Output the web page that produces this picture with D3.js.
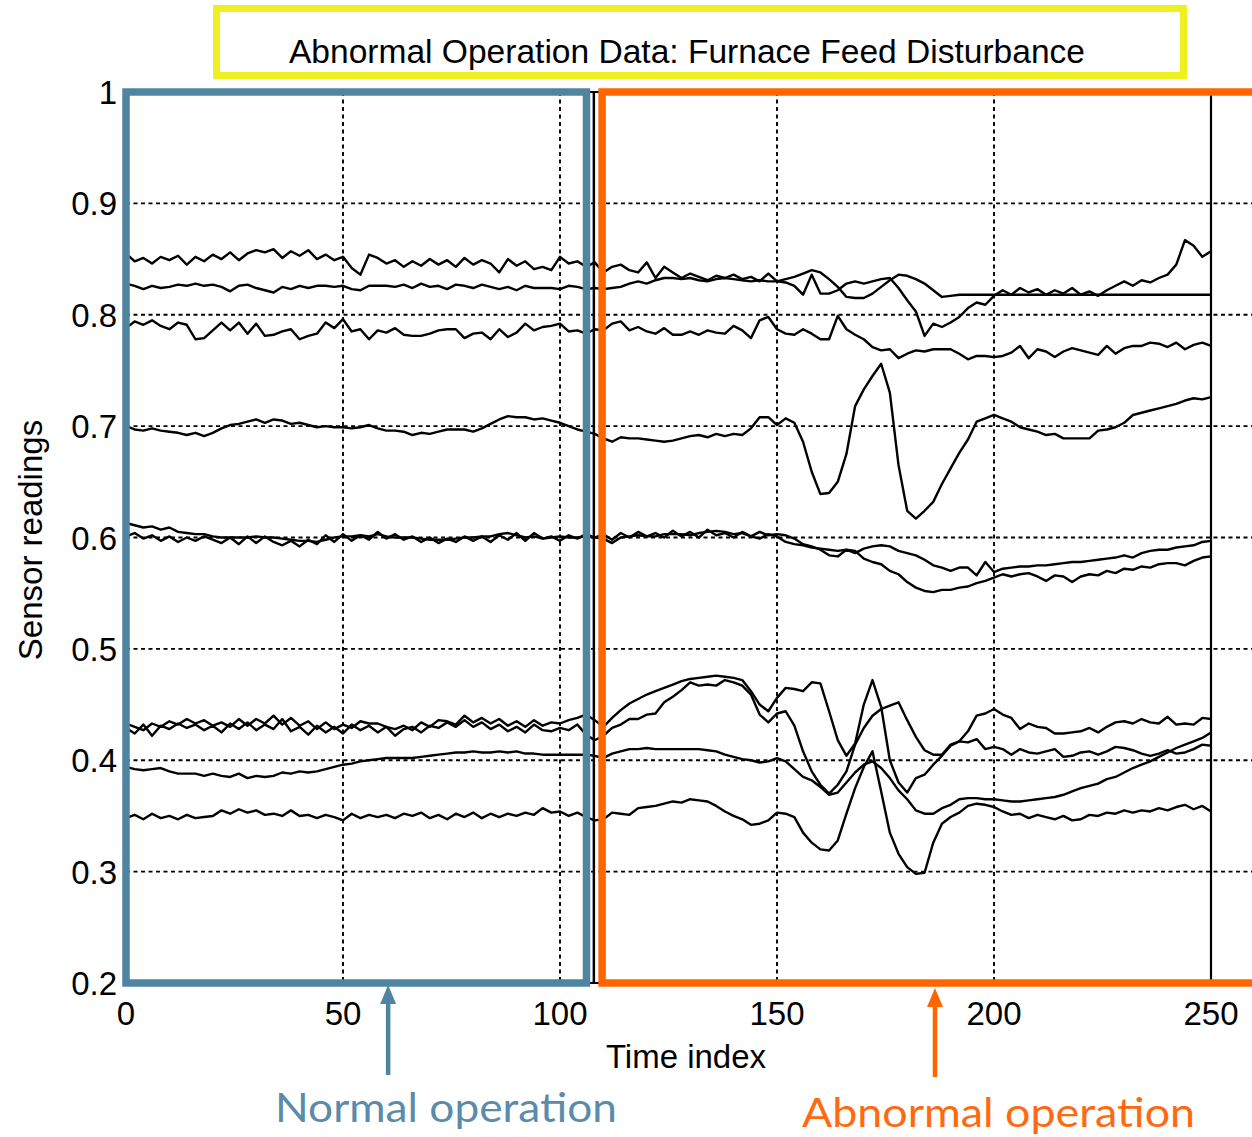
<!DOCTYPE html>
<html>
<head>
<meta charset="utf-8">
<script src="https://cdn.jsdelivr.net/npm/d3@7"></script>
<style>
  html, body { margin: 0; padding: 0; background: #fff; }
  svg { display: block; }
</style>
</head>
<body>
<svg id="chart" width="1252" height="1137"></svg>
<script>
/* global d3 */
// readings sampled every 2 time steps, t = 0..250
var timeStep = 2;

var sensor1 = [
  0.855,0.848,0.851,0.846,0.852,0.849,0.853,0.845,0.852,0.848,
  0.854,0.850,0.856,0.849,0.855,0.858,0.856,0.859,0.851,0.857,
  0.853,0.858,0.850,0.854,0.849,0.852,0.842,0.836,0.854,0.851,
  0.846,0.849,0.843,0.848,0.844,0.850,0.845,0.849,0.843,0.851,
  0.845,0.849,0.846,0.838,0.850,0.844,0.848,0.841,0.843,0.840,
  0.852,0.846,0.848,0.843,0.847,
  0.838,0.843,0.845,0.840,0.838,0.847,0.833,0.843,0.838,0.833,
  0.837,0.834,0.831,0.835,0.833,0.836,0.832,0.834,0.830,0.837,
  0.830,0.829,0.826,0.818,0.836,0.819,0.819,0.822,0.828,0.830,
  0.828,0.830,0.832,0.833,0.824,0.813,0.803,0.781,0.792,0.789,
  0.793,0.798,0.806,0.811,0.809,0.817,0.822,0.818,0.824,0.820,
  0.823,0.818,0.822,0.819,0.824,0.818,0.821,0.817,0.822,0.826,
  0.830,0.826,0.831,0.829,0.833,0.836,0.845,0.867,0.862,0.852,
  0.857];

var sensor2 = [
  0.828,0.826,0.823,0.826,0.824,0.825,0.827,0.826,0.828,0.826,
  0.827,0.825,0.821,0.826,0.827,0.824,0.822,0.820,0.825,0.823,
  0.826,0.824,0.826,0.826,0.825,0.826,0.823,0.822,0.826,0.826,
  0.826,0.825,0.827,0.824,0.828,0.825,0.826,0.823,0.827,0.826,
  0.824,0.827,0.825,0.823,0.825,0.822,0.826,0.824,0.824,0.824,
  0.823,0.826,0.825,0.823,0.824,
  0.823,0.824,0.825,0.828,0.830,0.828,0.831,0.833,0.833,0.832,
  0.833,0.831,0.830,0.832,0.833,0.832,0.831,0.830,0.831,0.830,
  0.830,0.832,0.834,0.837,0.840,0.838,0.832,0.825,0.816,0.815,
  0.815,0.819,0.825,0.831,0.836,0.835,0.832,0.828,0.822,0.816,
  0.817,0.818,0.818,0.818,0.818,0.818,0.818,0.818,0.818,0.818,
  0.818,0.818,0.818,0.818,0.818,0.818,0.818,0.818,0.818,0.818,
  0.818,0.818,0.818,0.818,0.818,0.818,0.818,0.818,0.818,0.818,
  0.818];

var sensor3 = [
  0.788,0.794,0.791,0.795,0.790,0.787,0.793,0.791,0.778,0.779,
  0.786,0.793,0.786,0.793,0.783,0.792,0.781,0.782,0.785,0.787,
  0.778,0.781,0.783,0.793,0.788,0.796,0.785,0.787,0.778,0.786,
  0.784,0.788,0.782,0.781,0.781,0.783,0.786,0.787,0.787,0.779,
  0.783,0.784,0.778,0.787,0.780,0.784,0.792,0.786,0.789,0.790,
  0.792,0.785,0.786,0.783,0.787,
  0.786,0.792,0.794,0.786,0.789,0.785,0.783,0.788,0.782,0.782,
  0.785,0.782,0.786,0.784,0.783,0.790,0.786,0.779,0.795,0.798,
  0.787,0.783,0.782,0.787,0.783,0.778,0.778,0.799,0.787,0.782,
  0.778,0.771,0.768,0.769,0.761,0.765,0.768,0.767,0.769,0.769,
  0.769,0.765,0.760,0.763,0.763,0.762,0.763,0.766,0.772,0.761,
  0.769,0.767,0.762,0.767,0.770,0.768,0.766,0.764,0.772,0.765,
  0.770,0.772,0.772,0.775,0.774,0.771,0.775,0.769,0.773,0.775,
  0.772];

var sensor4 = [
  0.700,0.697,0.696,0.698,0.696,0.695,0.694,0.692,0.694,0.691,
  0.694,0.698,0.701,0.702,0.704,0.706,0.703,0.706,0.705,0.702,
  0.703,0.701,0.699,0.700,0.699,0.699,0.698,0.699,0.701,0.698,
  0.696,0.696,0.695,0.692,0.694,0.693,0.695,0.697,0.697,0.697,
  0.695,0.698,0.702,0.706,0.709,0.708,0.708,0.706,0.707,0.705,
  0.703,0.700,0.697,0.695,0.693,
  0.689,0.686,0.690,0.689,0.689,0.688,0.687,0.686,0.687,0.689,
  0.691,0.692,0.690,0.693,0.691,0.693,0.692,0.698,0.708,0.708,
  0.701,0.707,0.703,0.686,0.659,0.639,0.640,0.650,0.675,0.718,
  0.733,0.745,0.756,0.730,0.665,0.624,0.617,0.624,0.632,0.648,
  0.662,0.676,0.688,0.704,0.707,0.710,0.707,0.704,0.699,0.697,
  0.695,0.692,0.693,0.689,0.689,0.689,0.689,0.696,0.697,0.699,
  0.703,0.710,0.712,0.714,0.716,0.718,0.720,0.723,0.725,0.724,
  0.726];

var sensor5 = [
  0.613,0.611,0.609,0.610,0.607,0.609,0.605,0.604,0.603,0.603,
  0.601,0.600,0.600,0.600,0.600,0.601,0.600,0.600,0.599,0.598,
  0.597,0.597,0.596,0.598,0.600,0.601,0.601,0.602,0.601,0.603,
  0.601,0.600,0.600,0.600,0.599,0.598,0.598,0.598,0.599,0.600,
  0.600,0.601,0.601,0.603,0.604,0.602,0.600,0.601,0.599,0.600,
  0.601,0.600,0.600,0.601,0.600,
  0.599,0.595,0.600,0.601,0.602,0.601,0.601,0.603,0.603,0.603,
  0.602,0.604,0.605,0.606,0.605,0.603,0.604,0.601,0.605,0.602,
  0.603,0.602,0.599,0.594,0.592,0.589,0.584,0.583,0.589,0.586,
  0.590,0.592,0.593,0.592,0.588,0.586,0.584,0.580,0.575,0.573,
  0.570,0.573,0.573,0.566,0.578,0.569,0.572,0.573,0.574,0.574,
  0.575,0.575,0.576,0.577,0.578,0.578,0.579,0.580,0.581,0.582,
  0.584,0.582,0.586,0.588,0.589,0.589,0.591,0.592,0.593,0.596,
  0.597];

var sensor6 = [
  0.601,0.604,0.599,0.602,0.597,0.601,0.596,0.600,0.597,0.601,
  0.598,0.595,0.600,0.594,0.601,0.595,0.601,0.596,0.593,0.597,
  0.592,0.598,0.594,0.602,0.596,0.603,0.597,0.602,0.598,0.605,
  0.599,0.603,0.598,0.601,0.596,0.600,0.595,0.599,0.596,0.601,
  0.597,0.601,0.596,0.602,0.598,0.604,0.597,0.604,0.599,0.601,
  0.597,0.602,0.599,0.603,0.600,
  0.603,0.598,0.604,0.600,0.605,0.601,0.604,0.600,0.606,0.601,
  0.605,0.600,0.607,0.602,0.604,0.600,0.605,0.601,0.599,0.603,
  0.601,0.596,0.594,0.593,0.591,0.590,0.589,0.588,0.589,0.588,
  0.581,0.578,0.576,0.570,0.567,0.560,0.555,0.552,0.551,0.553,
  0.553,0.555,0.556,0.559,0.561,0.564,0.567,0.565,0.567,0.568,
  0.565,0.561,0.566,0.565,0.560,0.565,0.567,0.566,0.570,0.568,
  0.572,0.571,0.574,0.573,0.576,0.577,0.577,0.575,0.579,0.582,
  0.583];

var sensor7 = [
  0.433,0.430,0.427,0.433,0.430,0.435,0.432,0.437,0.433,0.436,
  0.431,0.434,0.430,0.437,0.431,0.437,0.433,0.440,0.432,0.438,
  0.431,0.435,0.428,0.434,0.428,0.432,0.429,0.435,0.433,0.433,
  0.430,0.428,0.431,0.427,0.434,0.430,0.436,0.435,0.432,0.440,
  0.434,0.438,0.433,0.437,0.431,0.435,0.430,0.436,0.431,0.434,
  0.433,0.436,0.438,0.441,0.436,
  0.430,0.438,0.445,0.451,0.455,0.459,0.462,0.465,0.468,0.471,
  0.473,0.474,0.475,0.476,0.475,0.474,0.472,0.462,0.450,0.444,
  0.456,0.465,0.464,0.462,0.470,0.469,0.444,0.418,0.404,0.415,
  0.450,0.472,0.448,0.400,0.380,0.371,0.384,0.387,0.396,0.404,
  0.413,0.417,0.426,0.440,0.442,0.446,0.441,0.438,0.428,0.433,
  0.430,0.429,0.424,0.424,0.425,0.426,0.429,0.425,0.430,0.434,
  0.435,0.433,0.437,0.434,0.433,0.439,0.432,0.433,0.432,0.438,
  0.437];

var sensor8 = [
  0.429,0.424,0.432,0.422,0.431,0.428,0.433,0.429,0.432,0.427,
  0.431,0.425,0.433,0.428,0.434,0.427,0.432,0.428,0.437,0.426,
  0.430,0.423,0.431,0.425,0.430,0.424,0.432,0.427,0.431,0.425,
  0.430,0.422,0.428,0.430,0.425,0.431,0.429,0.434,0.430,0.436,
  0.430,0.434,0.428,0.432,0.426,0.430,0.425,0.432,0.427,0.426,
  0.429,0.427,0.432,0.423,0.418,
  0.422,0.429,0.432,0.437,0.437,0.441,0.442,0.452,0.457,0.463,
  0.470,0.467,0.468,0.467,0.472,0.470,0.467,0.459,0.441,0.434,
  0.442,0.444,0.431,0.408,0.390,0.378,0.370,0.378,0.390,0.414,
  0.429,0.440,0.446,0.449,0.452,0.436,0.421,0.409,0.405,0.405,
  0.414,0.417,0.416,0.419,0.410,0.412,0.410,0.405,0.410,0.407,
  0.406,0.408,0.410,0.403,0.404,0.407,0.408,0.405,0.408,0.412,
  0.411,0.409,0.406,0.404,0.406,0.409,0.406,0.407,0.410,0.414,
  0.413];

var sensor9 = [
  0.394,0.392,0.391,0.392,0.393,0.390,0.388,0.388,0.388,0.386,
  0.388,0.386,0.385,0.388,0.384,0.386,0.385,0.386,0.389,0.388,
  0.390,0.389,0.390,0.392,0.394,0.396,0.397,0.399,0.400,0.401,
  0.402,0.402,0.402,0.402,0.403,0.404,0.405,0.406,0.407,0.407,
  0.408,0.407,0.407,0.408,0.407,0.408,0.406,0.406,0.405,0.405,
  0.405,0.405,0.405,0.405,0.404,
  0.402,0.406,0.408,0.410,0.410,0.411,0.410,0.410,0.410,0.410,
  0.410,0.410,0.409,0.408,0.405,0.403,0.401,0.400,0.398,0.399,
  0.402,0.399,0.392,0.385,0.382,0.376,0.369,0.371,0.380,0.389,
  0.396,0.399,0.393,0.384,0.373,0.365,0.355,0.352,0.352,0.357,
  0.360,0.365,0.366,0.366,0.365,0.365,0.364,0.363,0.363,0.364,
  0.365,0.366,0.367,0.369,0.372,0.375,0.377,0.379,0.383,0.385,
  0.389,0.393,0.396,0.399,0.403,0.407,0.411,0.414,0.417,0.420,
  0.425];

var sensor10 = [
  0.348,0.351,0.347,0.352,0.348,0.350,0.347,0.351,0.348,0.349,
  0.350,0.355,0.352,0.356,0.353,0.355,0.351,0.352,0.350,0.355,
  0.350,0.351,0.348,0.351,0.349,0.346,0.352,0.348,0.351,0.349,
  0.351,0.348,0.352,0.350,0.353,0.348,0.351,0.347,0.352,0.349,
  0.353,0.348,0.352,0.349,0.352,0.350,0.353,0.351,0.357,0.353,
  0.354,0.350,0.353,0.349,0.346,
  0.347,0.353,0.352,0.351,0.357,0.358,0.359,0.361,0.363,0.362,
  0.365,0.364,0.363,0.359,0.354,0.350,0.347,0.342,0.343,0.346,
  0.353,0.352,0.349,0.335,0.326,0.320,0.319,0.328,0.352,0.375,
  0.394,0.408,0.372,0.335,0.316,0.304,0.298,0.299,0.326,0.343,
  0.349,0.353,0.359,0.361,0.360,0.358,0.354,0.351,0.352,0.348,
  0.351,0.349,0.347,0.350,0.346,0.347,0.351,0.350,0.353,0.352,
  0.355,0.353,0.355,0.354,0.357,0.355,0.358,0.360,0.356,0.359,
  0.354];

var series = [sensor1, sensor2, sensor3, sensor4, sensor5,
              sensor6, sensor7, sensor8, sensor9, sensor10];

var yTicks = [0.2, 0.3, 0.4, 0.5, 0.6, 0.7, 0.8, 0.9, 1];
var xTicks = [0, 50, 100, 150, 200, 250];
var lastTime = 250;
var separatorTime = 107.8;      // black divider in the original plot
var normalSpan = [0, 106.1];     // blue box
var abnormalSpan = [109.7, 262]; // orange box (runs off the page)
var arrowTimes = [60.4, 186.4];

var title = "Abnormal Operation Data: Furnace Feed Disturbance";

var width = 1252, height = 1137;
var svg = d3.select("#chart");

var x = d3.scaleLinear().domain([0, 260]).range([126, 126 + 260 * 4.34]),
    y = d3.scaleLinear().domain([0.2, 1]).range([983, 92]);

var font = "'Liberation Sans', Arial, Helvetica, sans-serif";

// grid
var grid = svg.append("g").attr("stroke", "#000").attr("stroke-width", 1.9)
  .attr("stroke-dasharray", "4,3.5");

grid.selectAll(".hg").data(yTicks.slice(1, -1)).enter().append("line")
  .attr("x1", x(0)).attr("x2", width)
  .attr("y1", function (d) { return y(d); })
  .attr("y2", function (d) { return y(d); });

grid.selectAll(".vg").data(xTicks.slice(1, -1)).enter().append("line")
  .attr("x1", function (d) { return x(d); })
  .attr("x2", function (d) { return x(d); })
  .attr("y1", y(1)).attr("y2", y(0.2));

// solid line at the end of data and the frame
svg.append("line")
  .attr("x1", x(lastTime)).attr("x2", x(lastTime))
  .attr("y1", y(1)).attr("y2", y(0.2))
  .attr("stroke", "#000").attr("stroke-width", 2.2);

svg.append("rect")
  .attr("x", x(0)).attr("y", y(1))
  .attr("width", x(260) - x(0)).attr("height", y(0.2) - y(1))
  .attr("fill", "none").attr("stroke", "#000").attr("stroke-width", 2);

svg.append("line")
  .attr("x1", x(separatorTime)).attr("x2", x(separatorTime))
  .attr("y1", y(1)).attr("y2", y(0.2))
  .attr("stroke", "#000").attr("stroke-width", 2.5);

// sensor traces
var line = d3.line()
  .x(function (d, i) { return x(i * timeStep); })
  .y(function (d) { return y(d); });

svg.append("g").selectAll("path").data(series).enter().append("path")
  .attr("d", line)
  .attr("fill", "none")
  .attr("stroke", "#000")
  .attr("stroke-width", 2.4)
  .attr("stroke-linejoin", "round");

// tick labels
svg.append("g").selectAll("text").data(yTicks).enter().append("text")
  .attr("x", 117)
  .attr("y", function (d) { return y(d) + 12; })
  .attr("text-anchor", "end")
  .attr("font-family", font).attr("font-size", 33)
  .text(function (d) { return d === 1 ? "1" : d3.format(".1f")(d); });

svg.append("g").selectAll("text").data(xTicks).enter().append("text")
  .attr("x", function (d) { return x(d); })
  .attr("y", 1025)
  .attr("text-anchor", "middle")
  .attr("font-family", font).attr("font-size", 33)
  .text(function (d) { return d; });

svg.append("text")
  .attr("x", 686).attr("y", 1068)
  .attr("text-anchor", "middle")
  .attr("font-family", font).attr("font-size", 33)
  .text("Time index");

svg.append("text")
  .attr("transform", "translate(42,540) rotate(-90)")
  .attr("text-anchor", "middle")
  .attr("font-family", font).attr("font-size", 33)
  .text("Sensor readings");

// highlight boxes
var blue = "#5085a2", orange = "#ff6600", yellow = "#eef021";

svg.append("rect")
  .attr("x", x(normalSpan[0])).attr("y", y(1))
  .attr("width", x(normalSpan[1]) - x(normalSpan[0]))
  .attr("height", y(0.2) - y(1))
  .attr("fill", "none").attr("stroke", blue).attr("stroke-width", 7.5);

svg.append("rect")
  .attr("x", x(abnormalSpan[0])).attr("y", y(1))
  .attr("width", x(abnormalSpan[1]) - x(abnormalSpan[0]))
  .attr("height", y(0.2) - y(1))
  .attr("fill", "none").attr("stroke", orange).attr("stroke-width", 7.5);

svg.append("rect")
  .attr("x", 216.5).attr("y", 8.5)
  .attr("width", 967).attr("height", 67)
  .attr("fill", "none").attr("stroke", yellow).attr("stroke-width", 7);

svg.append("text")
  .attr("x", 687).attr("y", 63)
  .attr("text-anchor", "middle")
  .attr("font-family", font).attr("font-size", 33)
  .attr("textLength", 796).attr("lengthAdjust", "spacingAndGlyphs")
  .text(title);

// arrows and captions
var arrowColors = [blue, orange];
var arrowTips = [985, 988], arrowEnds = [1075, 1077];

arrowTimes.forEach(function (t, i) {
  var ax = x(t);
  svg.append("line")
    .attr("x1", ax).attr("x2", ax)
    .attr("y1", arrowEnds[i]).attr("y2", arrowTips[i] + 14)
    .attr("stroke", arrowColors[i]).attr("stroke-width", 4.5);
  svg.append("path")
    .attr("d", "M" + ax + "," + arrowTips[i] + "l-8,19h16z")
    .attr("fill", arrowColors[i]);
});

var captionFont = "Lato, 'Open Sans', 'Noto Sans', sans-serif";

svg.append("text")
  .attr("x", 275).attr("y", 1122)
  .attr("font-family", captionFont).attr("font-size", 41)
  .attr("textLength", 342).attr("lengthAdjust", "spacingAndGlyphs")
  .attr("fill", "#5a8bab")
  .text("Normal operation");

svg.append("text")
  .attr("x", 802).attr("y", 1127)
  .attr("font-family", captionFont).attr("font-size", 41)
  .attr("textLength", 393).attr("lengthAdjust", "spacingAndGlyphs")
  .attr("fill", "#ff6a10")
  .text("Abnormal operation");
</script>
</body>
</html>
